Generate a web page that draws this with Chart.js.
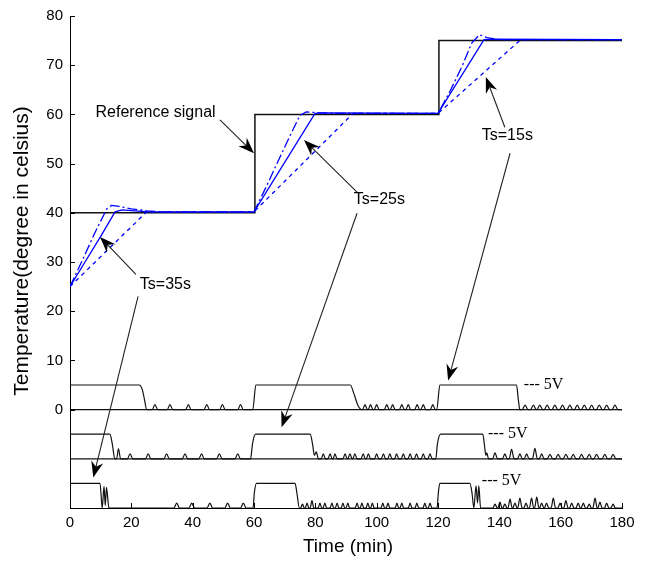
<!DOCTYPE html>
<html><head><meta charset="utf-8">
<script src="https://cdn.jsdelivr.net/npm/chart.js@4.4.1/dist/chart.umd.min.js"></script>
<style>html,body{margin:0;padding:0;background:#fff;}canvas{display:block;}</style>
</head><body>
<canvas id="c" width="646" height="563"></canvas>
<script>
// ---------- DATA ----------
const xTicks = [0, 20, 40, 60, 80, 100, 120, 140, 160, 180];
const yTicks = [0, 10, 20, 30, 40, 50, 60, 70, 80];
const xTitle = 'Time (min)';
const yTitle = 'Temperature(degree in celsius)';

// Reference signal (black)
const refT = [0, 60, 60.3, 120, 120.3, 180];
const refV = [40, 40, 60, 60, 75, 75];

// Temperature responses (blue)
const fastT = [0, 4, 8, 12, 13.5, 16, 20, 25, 30, 60, 64, 68, 72, 75, 77, 80, 85, 120, 124, 128, 131, 133.5, 136, 140, 180];
const fastV = [25, 30.3, 35.8, 40.8, 41.5, 41.3, 40.8, 40.4, 40.2, 40.2, 45.3, 50.7, 56, 59.8, 60.5, 60.4, 60.2, 60.2, 64.8, 70, 74.5, 76.2, 75.6, 75.2, 75.2];
const midT = [0, 5, 10, 14.7, 17, 21, 26, 60, 79.9, 83, 120, 135, 138, 180];
const midV = [25, 30.1, 35.2, 40.2, 40.6, 40.4, 40.2, 40.2, 60.2, 60.3, 60.2, 75.2, 75.3, 75.2];
const slowT = [0, 25, 60, 92.3, 120, 147, 180];
const slowV = [25, 40.2, 40.2, 60.2, 60.2, 75.2, 75.2];

// Control signals (PWM) drawn at offsets 0, -10, -20
const base1T = [0, 180]; const base1V = [0, 0];
const base2T = [0, 180]; const base2V = [-10, -10];

const pwm1T = [0, 22.6, 23.6, 24.3, 25,
 26.8, 27.7, 28.6, 31.7, 32.6, 33.5, 37.7, 38.6, 39.5, 43.7, 44.6, 45.5, 48.8, 49.7, 50.6, 54.7, 55.6, 56.5,
 59.6, 60.6,
 91.4, 92.6, 93.8, 95.1,
 95.4, 96.2, 97.0, 97.2, 98.0, 98.8, 99.2, 100.0, 100.8, 102.5, 103.3, 104.1, 104.4, 105.2, 106.0,
 107.4, 108.2, 109.0, 109.5, 110.3, 111.1, 112.4, 113.2, 114.0, 114.4, 115.2, 116.0, 117.5, 118.3, 119.1,
 119.6, 120.6,
 145.6, 146.2, 146.7,
 147.4, 148.4, 149.4, 150.1, 151.1, 152.1, 152.2, 153.2, 154.2, 154.6, 155.6, 156.6, 157.1, 158.1, 159.1,
 159.6, 160.6, 161.6, 162.0, 163.0, 164.0, 164.4, 165.4, 166.4, 166.7, 167.7, 168.7, 169.1, 170.1, 171.1,
 171.6, 172.6, 173.6, 174.0, 175.0, 176.0, 176.7, 177.7, 178.7,
 180];
const pwm1V = [5, 5, 4, 2, 0,
 0, 1, 0, 0, 1, 0, 0, 1, 0, 0, 1, 0, 0, 1, 0, 0, 1, 0,
 0, 5,
 5, 3.2, 1, 0,
 0, 1, 0, 0, 1, 0, 0, 1, 0, 0, 1, 0, 0, 1, 0,
 0, 1, 0, 0, 1, 0, 0, 1, 0, 0, 1, 0, 0, 1, 0,
 0, 5,
 5, 2, 0,
 0, 0.9, 0, 0, 0.9, 0, 0, 0.9, 0, 0, 0.9, 0, 0, 0.9, 0,
 0, 0.9, 0, 0, 0.9, 0, 0, 0.9, 0, 0, 0.9, 0, 0, 0.9, 0,
 0, 0.9, 0, 0, 0.9, 0, 0, 0.9, 0,
 0];

const pwm2T = [0, 13.0, 13.8, 14.6, 15.2, 15.8, 16.5,
 18.7, 19.6, 20.5, 24.6, 25.5, 26.4, 30.6, 31.5, 32.4, 36.6, 37.5, 38.4, 42.0, 42.9, 43.8, 47.8, 48.7, 49.6, 53.8, 54.7, 55.6,
 58.9, 59.5, 60.5,
 78.3, 79.1, 79.7, 80.3, 81.0,
 81.9, 82.6, 83.3, 84.1, 84.8, 85.5, 85.8, 86.4, 87.1, 89.0, 89.7, 90.4, 90.6, 91.3, 92.0, 92.2, 92.9, 93.6,
 94.9, 95.6, 96.3, 96.6, 97.3, 98.0, 99.3, 100.0, 100.7, 101.5, 102.2, 102.9, 103.6, 104.3, 105.0,
 105.8, 106.5, 107.2, 108.0, 108.7, 109.4, 110.2, 110.9, 111.6, 112.3, 113.0, 113.7, 114.5, 115.2, 115.9, 116.7, 117.4, 118.1,
 119.3, 119.8, 120.9,
 134.6, 135.2, 135.6, 135.9, 136.5,
 137.8, 138.6, 139.4, 141.0, 141.8, 142.6, 143.2, 144.0, 144.8, 145.9, 146.7, 147.5, 148.1, 148.9, 149.7,
 150.8, 151.6, 152.4, 153.0, 153.8, 154.6, 155.6, 156.5, 157.4, 158.3, 159.2, 160.1, 160.8, 161.7, 162.6,
 163.2, 164.1, 165.0, 165.9, 166.8, 167.7, 168.4, 169.3, 170.2, 170.8, 171.7, 172.6, 173.5, 174.4, 175.3, 176.2, 177.1, 178.0,
 180];
const pwm2V = [-5, -5, -7, -10, -10, -8, -10,
 -10, -9, -10, -10, -9, -10, -10, -9, -10, -10, -9, -10, -10, -9, -10, -10, -9, -10, -10, -9, -10,
 -10, -7, -5,
 -5, -7, -9.3, -8.6, -10,
 -10, -9, -10, -10, -9, -10, -10, -9, -10, -10, -9, -10, -10, -9, -10, -10, -9, -10,
 -10, -9, -10, -10, -9, -10, -10, -9, -10, -10, -9, -10, -10, -9, -10,
 -10, -9, -10, -10, -9, -10, -10, -9, -10, -10, -9, -10, -10, -9, -10, -10, -9, -10,
 -10, -7, -5,
 -5, -7.5, -9.3, -8.8, -10,
 -10, -8.8, -10, -10, -9, -10, -10, -8.1, -10, -10, -9, -10, -10, -9, -10,
 -10, -7.9, -10, -10, -9, -10, -10, -9.1, -10, -10, -9.1, -10, -10, -9.1, -10,
 -10, -9.1, -10, -10, -9.1, -10, -10, -9.1, -10, -10, -9.1, -10, -10, -9.1, -10, -10, -9.1, -10,
 -10];

const pwm3T = [0, 9.8, 10.5, 11.1, 11.5, 11.9, 12.7,
 33.9, 34.8, 35.7, 38.8, 39.7, 40.6, 44.7, 45.6, 46.5, 50.5, 51.4, 52.3, 55.6, 56.5, 57.4,
 59.7, 60.1, 60.8,
 73.4, 74.0, 74.8,
 75.2, 75.8, 76.4, 76.7, 77.3, 77.9, 78.3, 78.9, 79.5, 80.9, 81.5, 82.1, 82.5, 83.1, 83.7,
 84.8, 85.4, 86.0, 86.5, 87.1, 87.7, 88.4, 89.0, 89.6, 90.0, 90.6, 91.2, 93.0, 93.6, 94.2,
 94.6, 95.2, 95.8, 96.5, 97.1, 97.7, 98.0, 98.6, 99.2, 101.4, 102.0, 102.6, 103.1, 103.7, 104.3,
 106.0, 106.6, 107.2, 107.6, 108.2, 108.8, 110.3, 110.9, 111.5, 112.5, 113.1, 113.7, 115.1, 115.7, 116.3, 116.8, 117.4, 118.0,
 119.7, 120.1, 120.6,
 130.4, 131.1, 131.7, 132.4, 132.9, 133.3, 133.9,
 137.9, 138.6, 139.3, 139.5, 140.2, 140.9, 141.1, 141.8, 142.5, 142.8, 143.5, 144.2, 144.4, 145.1, 145.8,
 146.0, 146.7, 147.4, 148.0, 148.7, 149.4, 149.8, 150.5, 151.2, 151.5, 152.2, 152.9, 153.1, 153.8, 154.5,
 154.7, 155.4, 156.1, 156.9, 157.6, 158.3, 159.1, 159.8, 160.5, 161.0, 161.7, 162.4, 162.9, 163.6, 164.3,
 165.0, 165.7, 166.4, 166.7, 167.4, 168.1, 168.6, 169.3, 170.0, 170.5, 171.2, 171.9, 172.1, 172.8, 173.5,
 174.3, 175.0, 175.7, 176.4, 177.1, 177.8,
 180];
const pwm3V = [-15, -15, -20, -15.6, -19.5, -15.8, -20,
 -20, -19, -20, -20, -19, -20, -20, -19, -20, -20, -19, -20, -20, -19, -20,
 -20, -17, -15,
 -15, -17, -20,
 -20, -19.2, -20, -20, -19, -20, -20, -18.5, -20, -20, -19, -20, -20, -19, -20,
 -20, -19, -20, -20, -19, -20, -20, -19, -20, -20, -19, -20, -20, -19, -20,
 -20, -19, -20, -20, -19, -20, -20, -19, -20, -20, -19, -20, -20, -19, -20,
 -20, -19, -20, -20, -19, -20, -20, -19, -20, -20, -19, -20, -20, -19, -20, -20, -19, -20,
 -20, -17, -15,
 -15, -17, -20, -15.5, -19, -15.5, -20,
 -20, -19.2, -20, -20, -18.8, -20, -20, -19.2, -20, -20, -18.2, -20, -20, -19, -20,
 -20, -18, -20, -20, -19, -20, -20, -18, -20, -20, -17.8, -20, -20, -19, -20,
 -20, -19, -20, -20, -18, -20, -20, -19, -20, -20, -18.5, -20, -20, -19, -20,
 -20, -19, -20, -20, -19, -20, -20, -19.2, -20, -20, -18, -20, -20, -18.8, -20,
 -20, -19, -20, -20, -19.2, -20,
 -20];

// Annotations
const noteText = ['Reference signal', 'Ts=25s', 'Ts=15s', 'Ts=35s'];
const noteX = [27.9, 100.9, 142.6, 31.1];
const noteY = [60.4, 42.6, 55.6, 25.5];
const arrowFromX = [48.9, 93.6, 93.6, 141.8, 143.5, 21.5, 22.2];
const arrowFromY = [58.9, 44.2, 39.9, 57.4, 52.1, 27.5, 23.0];
const arrowToX = [60.0, 76.3, 69.0, 135.6, 123.3, 9.8, 7.6];
const arrowToY = [52.1, 54.8, -3.6, 67.6, 5.9, 35.1, -13.8];
const voltText = '--- 5V';
const voltX = [148, 136.3, 134.3];
const voltY = [5.1, -4.9, -14.5];

// ---------- BUILD ----------
function pts(t, v) {
  if (t.length !== v.length) console.warn('length mismatch', t.length, v.length);
  return t.map((x, i) => ({x: x, y: v[i]}));
}
const BLUE = '#0000ff';
const SANS = "'Liberation Sans', Arial, sans-serif";

function lineDs(t, v, color, width, dash, mono) {
  return {data: pts(t, v), borderColor: color, borderWidth: width, borderDash: dash || [],
    pointRadius: 0, fill: false, tension: 0, cubicInterpolationMode: mono ? 'monotone' : 'default'};
}

const datasets = [
  lineDs(slowT, slowV, BLUE, 1.3, [4, 4]),
  lineDs(midT, midV, BLUE, 1.3),
  lineDs(fastT, fastV, BLUE, 1.3, [10, 3, 2, 3]),
  lineDs(refT, refV, '#111', 1.5),
  lineDs(base1T, base1V, '#111', 1.2),
  lineDs(base2T, base2V, '#111', 1.2),
  lineDs(pwm1T, pwm1V, '#111', 1.2, null, true),
  lineDs(pwm2T, pwm2V, '#111', 1.2, null, true),
  lineDs(pwm3T, pwm3V, '#111', 1.2, null, true)
];

function drawArrow(ctx, x1, y1, x2, y2) {
  const a = Math.atan2(y2 - y1, x2 - x1);
  const L = 16, W = 6, N = 11;
  const ca = Math.cos(a), sa = Math.sin(a);
  const bx = x2 - ca * N, by = y2 - sa * N;
  ctx.beginPath(); ctx.moveTo(x1, y1); ctx.lineTo(bx, by); ctx.stroke();
  const cx = x2 - ca * L, cy = y2 - sa * L;
  ctx.beginPath();
  ctx.moveTo(x2, y2);
  ctx.lineTo(cx - sa * W, cy + ca * W);
  ctx.lineTo(bx, by);
  ctx.lineTo(cx + sa * W, cy - ca * W);
  ctx.closePath(); ctx.fill();
}

const decor = {
  id: 'decor',
  afterDatasetsDraw(chart) {
    const ctx = chart.ctx, xs = chart.scales.x, ys = chart.scales.y;
    const area = chart.chartArea;
    ctx.save();
    ctx.strokeStyle = '#000'; ctx.lineWidth = 1;
    // inward tick marks
    xTicks.forEach(t => {
      const px = Math.round(xs.getPixelForValue(t)) + 0.5;
      ctx.beginPath(); ctx.moveTo(px, area.bottom); ctx.lineTo(px, area.bottom - 5); ctx.stroke();
    });
    yTicks.forEach(v => {
      const py = Math.round(ys.getPixelForValue(v)) + 0.5;
      ctx.beginPath(); ctx.moveTo(area.left, py); ctx.lineTo(area.left + 5, py); ctx.stroke();
    });
    // arrows
    ctx.strokeStyle = '#222'; ctx.fillStyle = '#000'; ctx.lineWidth = 1.1;
    arrowFromX.forEach((t, i) => {
      drawArrow(ctx, xs.getPixelForValue(t), ys.getPixelForValue(arrowFromY[i]),
        xs.getPixelForValue(arrowToX[i]), ys.getPixelForValue(arrowToY[i]));
    });
    // texts
    ctx.fillStyle = '#000';
    ctx.font = '16px ' + SANS; ctx.textAlign = 'center'; ctx.textBaseline = 'middle';
    noteText.forEach((s, i) => {
      ctx.fillText(s, xs.getPixelForValue(noteX[i]), ys.getPixelForValue(noteY[i]));
    });
    ctx.font = "16px 'Liberation Serif', 'Times New Roman', serif"; ctx.textAlign = 'left';
    voltX.forEach((t, i) => {
      ctx.fillText(voltText, xs.getPixelForValue(t), ys.getPixelForValue(voltY[i]));
    });
    // axis titles
    ctx.font = '19px ' + SANS; ctx.textAlign = 'center'; ctx.textBaseline = 'middle';
    ctx.fillText(xTitle, (area.left + area.right) / 2 + 2, area.bottom + 39);
    ctx.save();
    ctx.translate(22, (area.top + area.bottom) / 2 - 11);
    ctx.rotate(-Math.PI / 2);
    ctx.font = '21px ' + SANS;
    ctx.fillText(yTitle, 0, 0);
    ctx.restore();
    ctx.restore();
  }
};

new Chart(document.getElementById('c'), {
  type: 'line',
  data: {datasets: datasets},
  options: {
    responsive: false, animation: false,
    layout: {padding: {top: 16, right: 24, left: 0, bottom: 0}},
    plugins: {legend: {display: false}, tooltip: {enabled: false}},
    scales: {
      x: {
        type: 'linear', min: 0, max: 180,
        afterBuildTicks: s => { s.ticks = xTicks.map(v => ({value: v})); },
        ticks: {color: '#000', font: {family: SANS, size: 15}, padding: 6, maxRotation: 0, autoSkip: false},
        grid: {display: false, drawTicks: false},
        border: {display: true, color: '#000', width: 1},
        afterFit: s => { s.height = 55; }
      },
      y: {
        type: 'linear', min: -20, max: 80,
        afterBuildTicks: s => { s.ticks = yTicks.map(v => ({value: v})); },
        ticks: {color: '#000', font: {family: SANS, size: 15}, padding: 7, autoSkip: false},
        grid: {display: false, drawTicks: false},
        border: {display: true, color: '#000', width: 1},
        afterFit: s => { s.width = 70; }
      }
    }
  },
  plugins: [decor]
});
</script>
</body></html>
